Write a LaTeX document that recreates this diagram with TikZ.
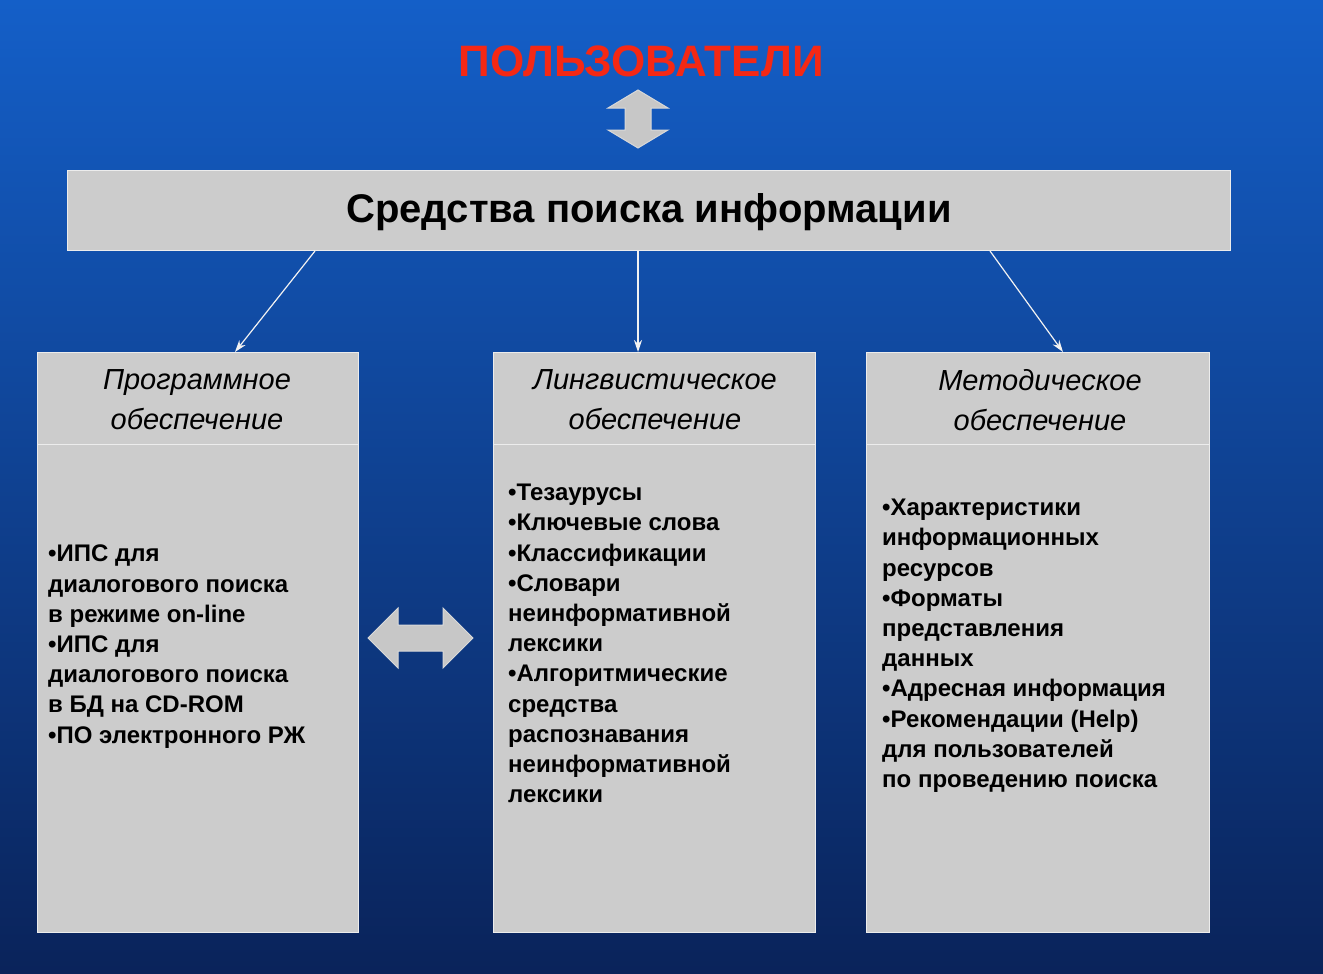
\documentclass[tikz,border=0pt]{standalone}
\usepackage{fontspec}
\setmainfont{Liberation Sans}
\definecolor{bgtop}{RGB}{20,95,200}
\definecolor{bgbot}{RGB}{10,35,90}
\definecolor{ttl}{RGB}{245,40,20}
\begin{document}
\begin{tikzpicture}[x=1pt,y=-1pt,
  box/.style={draw=white!85!gray,line width=1pt,fill=black!20},
  hdr/.style={font=\fontsize{29}{40}\selectfont\itshape,align=center,text=black},
  body/.style={font=\fontsize{24}{30.2}\selectfont\bfseries,align=left,anchor=north west,inner sep=0pt,text=black},
  thin/.style={draw=white!90!gray,line width=1.2pt,-{Stealth[length=12pt,width=8pt]}},
  blk/.style={draw=white!70!gray,line width=1pt,fill=black!22}]
\usetikzlibrary{arrows.meta}
\shade[top color=bgtop,bottom color=bgbot] (0,0) rectangle (1323,974);
\useasboundingbox (0,0) rectangle (1323,974);
% title
\node[font=\fontsize{44}{50}\selectfont\bfseries,text=ttl] (users) at (641,61) {ПОЛЬЗОВАТЕЛИ};
% vertical block arrow
\draw[blk] (638,90) -- (668,108) -- (651,108) -- (651,130) -- (668,130) -- (638,148) -- (608,130) -- (625,130) -- (625,108) -- (608,108) -- cycle;
% top box
\draw[box] (67,170) rectangle (1230,250);
\node[font=\fontsize{40}{42}\selectfont\bfseries] (top) at (649,212) {Средства поиска информации};
% columns
\draw[box] (37,352) rectangle (358,932); \draw[white!85!gray,line width=1pt] (37,444) -- (358,444);
\draw[box] (493,352) rectangle (815,932); \draw[white!85!gray,line width=1pt] (493,444) -- (815,444);
\draw[box] (866,352) rectangle (1209,932); \draw[white!85!gray,line width=1pt] (866,444) -- (1209,444);
\coordinate (a1) at (315,251); \coordinate (b1) at (235,352);
\coordinate (a2) at (638,251); \coordinate (b2) at (638,352);
\coordinate (a3) at (990,251); \coordinate (b3) at (1063,352);
\draw[thin] (a1) -- (b1); \draw[thin] (a2) -- (b2); \draw[thin] (a3) -- (b3);
\node[hdr] (h1) at (197,400) {Программное\\обеспечение};
\node[hdr] (h2) at (655,400) {Лингвистическое\\обеспечение};
\node[hdr] (h3) at (1040,400) {Методическое\\обеспечение};
% horizontal block arrow
\draw[blk] (368,638) -- (398,608) -- (398,625) -- (443,625) -- (443,608) -- (473,638) -- (443,668) -- (443,651) -- (398,651) -- (398,668) -- cycle;
\node[body] (t1) at (48,545) {•ИПС для\\диалогового поиска\\в режиме on-line\\•ИПС для\\диалогового поиска\\в БД на CD-ROM\\•ПО электронного РЖ};
\node[body] (t2) at (508,484) {•Тезаурусы\\•Ключевые слова\\•Классификации\\•Словари\\неинформативной\\лексики\\•Алгоритмические\\средства\\распознавания\\неинформативной\\лексики};
\node[body] (t3) at (882,499) {•Характеристики\\информационных\\ресурсов\\•Форматы\\представления\\данных\\•Адресная информация\\•Рекомендации (Help)\\для пользователей\\по проведению поиска};
\end{tikzpicture}
\end{document}
